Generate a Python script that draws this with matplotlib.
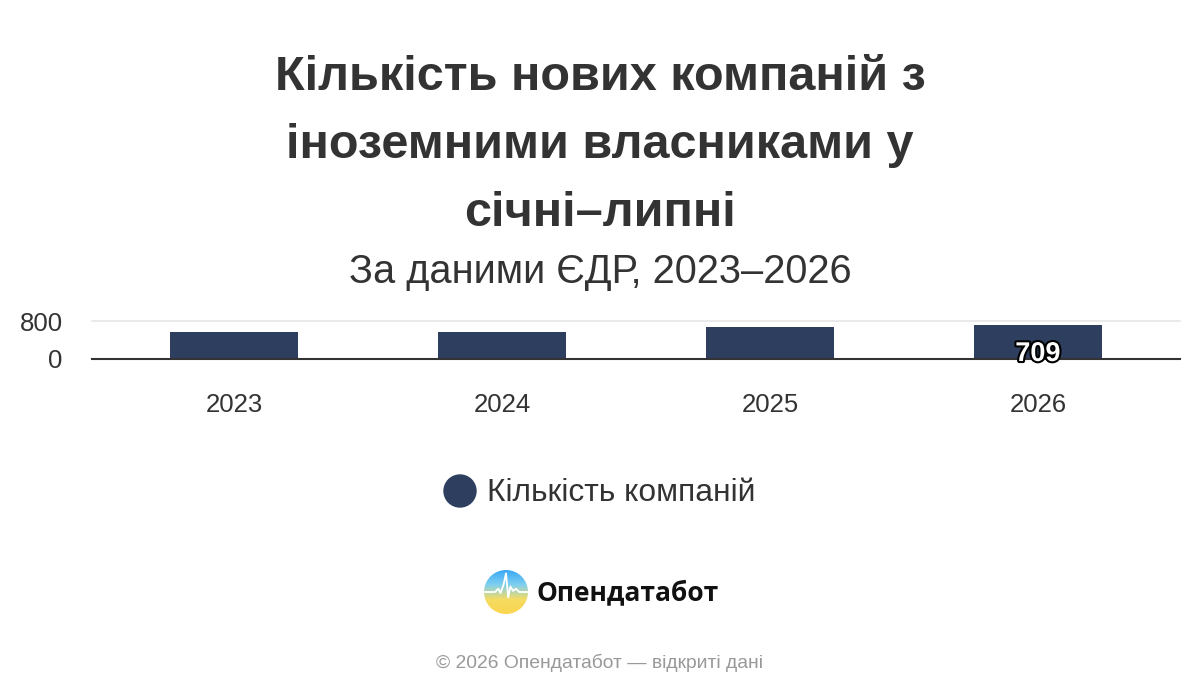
import matplotlib
matplotlib.use("Agg")
import matplotlib.pyplot as plt
import matplotlib.patheffects as pe
from matplotlib.patches import Circle
import numpy as np

years = ["2023", "2024", "2025", "2026"]
counts = [570, 570, 665, 709]
labeled = {3: "709"}
yticks = [0, 800]
title_lines = ["Кількість нових компаній з", "іноземними власниками у", "січні–липні"]
subtitle = "За даними ЄДР, 2023–2026"
legend_label = "Кількість компаній"
brand = "Опендатабот"
footer = "© 2026 Опендатабот — відкриті дані"

BAR = "#2e3e5e"
W, H = 1200, 700
FONT = ["Liberation Sans", "DejaVu Sans"]

fig = plt.figure(figsize=(12, 7), dpi=100)
fig.patch.set_facecolor("white")

def fx(x):
    return x / W

def fy(y):
    return 1 - y / H

# Titles
for i, line in enumerate(title_lines):
    fig.text(fx(600), fy(77 + i * 68), line, ha="center", va="center",
             fontsize=35, fontweight="bold", color="#333333", family=FONT)
fig.text(fx(600), fy(272), subtitle, ha="center", va="center",
         fontsize=28.6, color="#333333", family=FONT)

# Axes
top_px, base_px = 321.0, 358.7
ax = fig.add_axes([fx(92), fy(base_px), fx(1180) - fx(92), (base_px - top_px) / H])
x = np.arange(len(years))
ax.bar(x, counts, width=0.478, color=BAR, zorder=3)
ax.set_xlim(-0.53, 3.53)
ax.set_ylim(0, 800)
ax.set_yticks(yticks)
ax.set_yticklabels([str(v) for v in yticks], family=FONT, fontsize=18.5, color="#333333")
ax.set_xticks(x)
ax.set_xticklabels(years, family=FONT, fontsize=18.5, color="#333333")
ax.tick_params(axis="y", length=0, pad=21)
ax.tick_params(axis="x", length=0, pad=25)
for s in ["top", "right", "left"]:
    ax.spines[s].set_visible(False)
ax.spines["bottom"].set_color("#333333")
ax.spines["bottom"].set_linewidth(1.5)
ax.spines["bottom"].set_zorder(4)
ax.axhline(800, color="#e6e6e6", lw=1.2, zorder=1, clip_on=False)
ax.set_facecolor("none")

for i, lab in labeled.items():
    ax.annotate(lab, (x[i], 0), xytext=(0, 3.4), textcoords="offset points",
                ha="center", va="center", fontsize=19.5, fontweight="bold",
                color="white", family=FONT, zorder=6,
                path_effects=[pe.withStroke(linewidth=3, foreground="black")],
                annotation_clip=False)

# Legend
fig.patches.append(Circle((460, H - 491), 16, transform=None, color=BAR, zorder=5))
fig.text(fx(487), fy(493), legend_label, ha="left", va="center",
         fontsize=22.9, color="#333333", family=FONT)

# Logo
lax = fig.add_axes([fx(484), fy(614), 44 / W, 44 / H])
lax.set_xlim(-1, 1)
lax.set_ylim(-1, 1)
lax.axis("off")
grad = np.linspace(0, 1, 256).reshape(-1, 1)
cmap = matplotlib.colors.LinearSegmentedColormap.from_list(
    "lg", ["#fbd54e", "#f5dc62", "#7fd0f0", "#3aa8f5"])
im = lax.imshow(grad, extent=(-1, 1, -1, 1), origin="lower", cmap=cmap, aspect="auto")
clip = Circle((0, 0), 1, transform=lax.transData)
im.set_clip_path(clip)
hx = [-1, -0.5, -0.35, -0.25, -0.12, 0.0, 0.1, 0.2, 0.32, 0.45, 0.6, 1]
hy = [0.0, 0.0, 0.15, -0.05, 0.3, 0.85, -0.25, 0.25, 0.05, 0.15, 0.0, 0.0]
ln, = lax.plot(hx, hy, color="white", lw=1.3)
ln.set_clip_path(Circle((0, 0), 1, transform=lax.transData))
fig.text(fx(536), fy(593), brand, ha="left", va="center",
         fontsize=19, fontweight="bold", color="#111111", family=["Open Sans", "DejaVu Sans"])

fig.text(fx(600), fy(663), footer, ha="center", va="center",
         fontsize=13.85, color="#999999", family=FONT)

fig.savefig("out.png", dpi=100, facecolor="white")
